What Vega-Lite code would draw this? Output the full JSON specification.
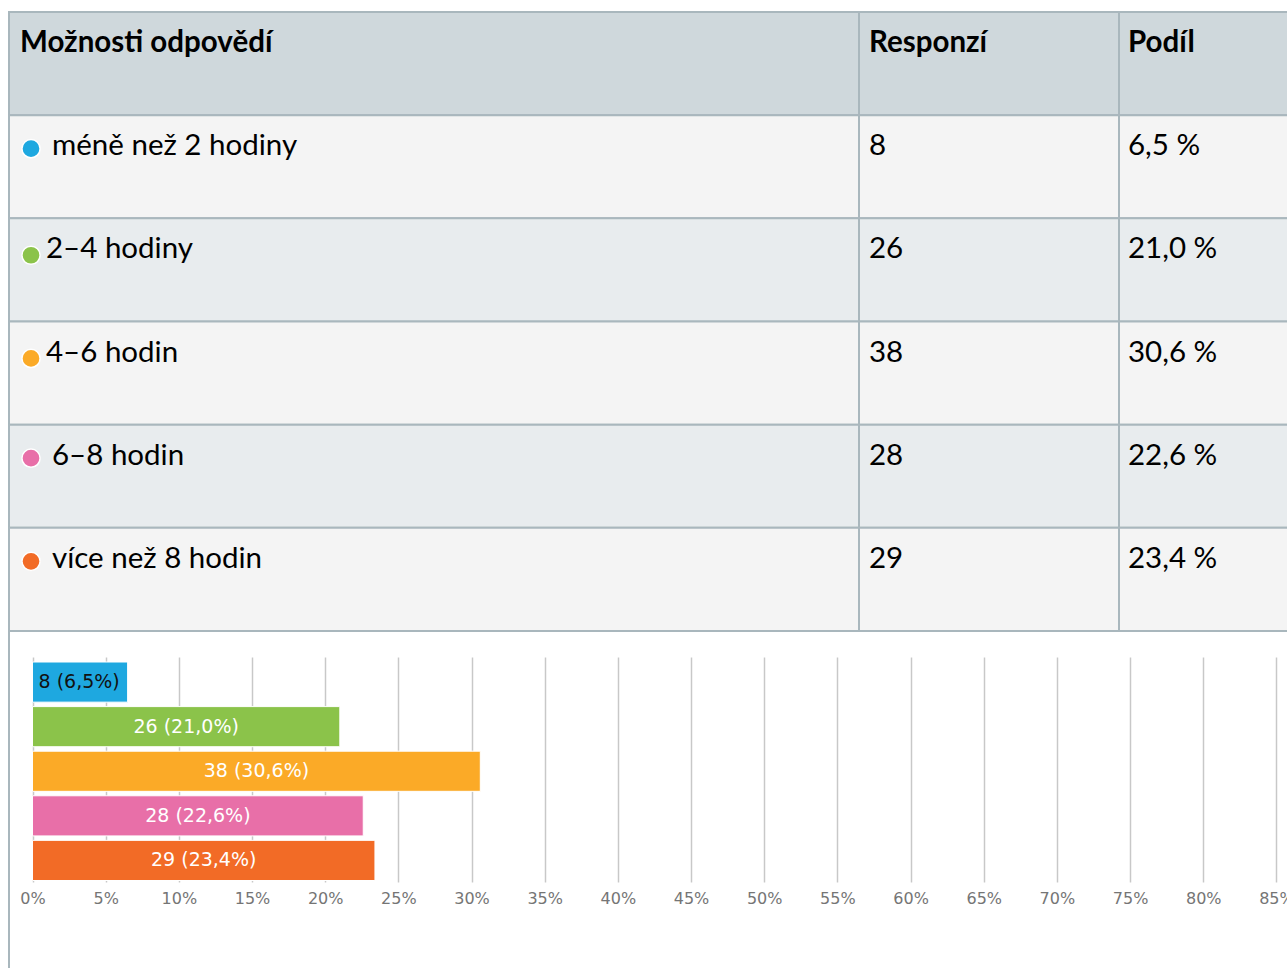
{
  "$schema": "https://vega.github.io/schema/vega-lite/v6.json",
  "padding": {"left": 8, "top": 11, "right": -8, "bottom": 0},
  "background": "#ffffff",
  "bounds": "flush",
  "spacing": 0,
  "columns": 3,
  "config": {"view": {"stroke": null}},
  "resolve": {"scale": {"x": "independent", "y": "independent"}},
  "datasets": {
    "header": [{"option": "Možnosti odpovědí", "responses": "Responzí", "share": "Podíl"}],
    "rows": [
      {"option": "méně než 2 hodiny", "responses": 8, "share": 6.5},
      {"option": "2–4 hodiny", "responses": 26, "share": 21.0},
      {"option": "4–6 hodin", "responses": 38, "share": 30.6},
      {"option": "6–8 hodin", "responses": 28, "share": 22.6},
      {"option": "více než 8 hodin", "responses": 29, "share": 23.4}
    ],
    "none": []
  },
  "concat": [
    {
      "width": 850,
      "height": 619,
      "layer": [
        {
          "data": {"name": "header"},
          "mark": {"type": "rect", "fill": "#cfd8dc", "stroke": "#a9b7bd", "strokeWidth": 2},
          "encoding": {"y": {"field": "option", "type": "nominal", "scale": {"domain": ["Možnosti odpovědí", "méně než 2 hodiny", "2–4 hodiny", "4–6 hodin", "6–8 hodin", "více než 8 hodin"], "paddingInner": 0, "paddingOuter": 0}, "axis": null}}
        },
        {
          "data": {"name": "rows"},
          "mark": {"type": "rect", "stroke": "#a9b7bd", "strokeWidth": 2},
          "encoding": {
            "y": {"field": "option", "type": "nominal", "axis": null},
            "fill": {"field": "option", "type": "nominal", "scale": {"domain": ["méně než 2 hodiny", "2–4 hodiny", "4–6 hodin", "6–8 hodin", "více než 8 hodin"], "range": ["#f4f4f4", "#e8ecee", "#f4f4f4", "#e8ecee", "#f4f4f4"]}, "legend": null}
          }
        },
        {
          "data": {"name": "header"},
          "mark": {"type": "text", "align": "left", "baseline": "alphabetic", "dx": 11, "dy": 40, "font": "Lato", "fontSize": 29.5, "fontWeight": "bold", "color": "#000000"},
          "encoding": {
            "y": {"field": "option", "type": "nominal", "bandPosition": 0, "axis": null},
            "x": {"datum": 0, "type": "quantitative", "scale": {"domain": [0, 1], "nice": false, "zero": false}, "axis": null},
            "text": {"field": "option"}
          }
        },
        {
          "data": {"name": "rows"},
          "transform": [{"filter": "indexof(['2–4 hodiny', '4–6 hodin'], datum.option) < 0"}],
          "mark": {"type": "text", "align": "left", "baseline": "alphabetic", "dx": 43, "dy": 40, "font": "Lato", "fontSize": 29.5, "color": "#000000"},
          "encoding": {
            "y": {"field": "option", "type": "nominal", "bandPosition": 0, "axis": null},
            "x": {"datum": 0, "type": "quantitative"},
            "text": {"field": "option"}
          }
        },
        {
          "data": {"name": "rows"},
          "transform": [{"filter": "indexof(['2–4 hodiny', '4–6 hodin'], datum.option) >= 0"}],
          "mark": {"type": "text", "align": "left", "baseline": "alphabetic", "dx": 37, "dy": 40, "font": "Lato", "fontSize": 29.5, "color": "#000000"},
          "encoding": {
            "y": {"field": "option", "type": "nominal", "bandPosition": 0, "axis": null},
            "x": {"datum": 0, "type": "quantitative"},
            "text": {"field": "option"}
          }
        },
        {
          "data": {"name": "rows"},
          "transform": [{"filter": "indexof(['2–4 hodiny', '4–6 hodin'], datum.option) < 0"}],
          "mark": {"type": "point", "shape": "circle", "filled": true, "size": 330, "stroke": "#ffffff", "strokeWidth": 1.5, "opacity": 1},
          "encoding": {
            "y": {"field": "option", "type": "nominal", "bandPosition": 0.325, "axis": null},
            "x": {"datum": 0.0259, "type": "quantitative"},
            "color": {"field": "option", "type": "nominal", "scale": {"domain": ["méně než 2 hodiny", "2–4 hodiny", "4–6 hodin", "6–8 hodin", "více než 8 hodin"], "range": ["#1ea8e0", "#8bc34a", "#fbaa27", "#e86fa8", "#f26b26"]}, "legend": null}
          }
        },
        {
          "data": {"name": "rows"},
          "transform": [{"filter": "indexof(['2–4 hodiny', '4–6 hodin'], datum.option) >= 0"}],
          "mark": {"type": "point", "shape": "circle", "filled": true, "size": 330, "stroke": "#ffffff", "strokeWidth": 1.5, "opacity": 1},
          "encoding": {
            "y": {"field": "option", "type": "nominal", "bandPosition": 0.358, "axis": null},
            "x": {"datum": 0.0259, "type": "quantitative"},
            "color": {"field": "option", "type": "nominal", "legend": null}
          }
        }
      ]
    },
    {
      "width": 260,
      "height": 619,
      "layer": [
        {
          "data": {"name": "header"},
          "mark": {"type": "rect", "fill": "#cfd8dc", "stroke": "#a9b7bd", "strokeWidth": 2},
          "encoding": {"y": {"field": "option", "type": "nominal", "scale": {"domain": ["Možnosti odpovědí", "méně než 2 hodiny", "2–4 hodiny", "4–6 hodin", "6–8 hodin", "více než 8 hodin"], "paddingInner": 0, "paddingOuter": 0}, "axis": null}}
        },
        {
          "data": {"name": "rows"},
          "mark": {"type": "rect", "stroke": "#a9b7bd", "strokeWidth": 2},
          "encoding": {
            "y": {"field": "option", "type": "nominal", "axis": null},
            "fill": {"field": "option", "type": "nominal", "scale": {"domain": ["méně než 2 hodiny", "2–4 hodiny", "4–6 hodin", "6–8 hodin", "více než 8 hodin"], "range": ["#f4f4f4", "#e8ecee", "#f4f4f4", "#e8ecee", "#f4f4f4"]}, "legend": null}
          }
        },
        {
          "data": {"name": "header"},
          "mark": {"type": "text", "align": "left", "baseline": "alphabetic", "dx": 10, "dy": 40, "font": "Lato", "fontSize": 29.5, "fontWeight": "bold", "color": "#000000"},
          "encoding": {
            "y": {"field": "option", "type": "nominal", "bandPosition": 0, "axis": null},
            "x": {"datum": 0, "type": "quantitative", "scale": {"domain": [0, 1], "nice": false, "zero": false}, "axis": null},
            "text": {"field": "responses"}
          }
        },
        {
          "data": {"name": "rows"},
          "mark": {"type": "text", "align": "left", "baseline": "alphabetic", "dx": 10, "dy": 40, "font": "Lato", "fontSize": 29.5, "color": "#000000"},
          "encoding": {
            "y": {"field": "option", "type": "nominal", "bandPosition": 0, "axis": null},
            "x": {"datum": 0, "type": "quantitative"},
            "text": {"field": "responses", "type": "quantitative", "format": "d"}
          }
        }
      ]
    },
    {
      "width": 170,
      "height": 619,
      "layer": [
        {
          "data": {"name": "header"},
          "mark": {"type": "rect", "fill": "#cfd8dc", "stroke": "#a9b7bd", "strokeWidth": 2},
          "encoding": {"y": {"field": "option", "type": "nominal", "scale": {"domain": ["Možnosti odpovědí", "méně než 2 hodiny", "2–4 hodiny", "4–6 hodin", "6–8 hodin", "více než 8 hodin"], "paddingInner": 0, "paddingOuter": 0}, "axis": null}}
        },
        {
          "data": {"name": "rows"},
          "mark": {"type": "rect", "stroke": "#a9b7bd", "strokeWidth": 2},
          "encoding": {
            "y": {"field": "option", "type": "nominal", "axis": null},
            "fill": {"field": "option", "type": "nominal", "scale": {"domain": ["méně než 2 hodiny", "2–4 hodiny", "4–6 hodin", "6–8 hodin", "více než 8 hodin"], "range": ["#f4f4f4", "#e8ecee", "#f4f4f4", "#e8ecee", "#f4f4f4"]}, "legend": null}
          }
        },
        {
          "data": {"name": "header"},
          "mark": {"type": "text", "align": "left", "baseline": "alphabetic", "dx": 9, "dy": 40, "font": "Lato", "fontSize": 29.5, "fontWeight": "bold", "color": "#000000"},
          "encoding": {
            "y": {"field": "option", "type": "nominal", "bandPosition": 0, "axis": null},
            "x": {"datum": 0, "type": "quantitative", "scale": {"domain": [0, 1], "nice": false, "zero": false}, "axis": null},
            "text": {"field": "share"}
          }
        },
        {
          "data": {"name": "rows"},
          "transform": [{"calculate": "replace(format(datum.share, '.1f'), '.', ',') + ' %'", "as": "shareText"}],
          "mark": {"type": "text", "align": "left", "baseline": "alphabetic", "dx": 9, "dy": 40, "font": "Lato", "fontSize": 29.5, "color": "#000000"},
          "encoding": {
            "y": {"field": "option", "type": "nominal", "bandPosition": 0, "axis": null},
            "x": {"datum": 0, "type": "quantitative"},
            "text": {"field": "shareText"}
          }
        }
      ]
    },
    {
      "width": 850,
      "height": 277,
      "view": {"stroke": "#a9b7bd", "strokeWidth": 2, "strokeDash": [0, 1977, 277, 10]},
      "data": {"name": "rows"},
      "transform": [
        {"calculate": "datum.responses + ' (' + replace(format(datum.share, '.1f'), '.', ',') + '%)'", "as": "barLabel"},
        {"calculate": "datum.share / 2", "as": "mid"}
      ],
      "encoding": {
        "y": {"field": "option", "type": "nominal", "sort": null, "scale": {"domain": ["méně než 2 hodiny", "2–4 hodiny", "4–6 hodin", "6–8 hodin", "více než 8 hodin"], "range": [26, 251], "paddingInner": 0.1, "paddingOuter": 0.073, "align": 0.77}, "axis": null}
      },
      "layer": [
        {
          "mark": {"type": "bar", "stroke": "#ffffff", "strokeWidth": 1},
          "encoding": {
            "x": {
              "field": "share",
              "type": "quantitative",
              "scale": {"domain": [0, 85.86], "range": [23.5, 1280], "nice": false},
              "axis": {"orient": "bottom", "offset": -26, "values": [0, 5, 10, 15, 20, 25, 30, 35, 40, 45, 50, 55, 60, 65, 70, 75, 80, 85], "labelExpr": "datum.value + '%'", "labelFlush": false, "labelOverlap": false, "domain": false, "ticks": false, "grid": true, "gridColor": "#c8c8c8", "gridWidth": 1.5, "labelFont": "DejaVu Sans", "labelFontSize": 16, "labelColor": "#757575", "labelPadding": 8, "labelBaseline": "top", "title": null}
            },
            "color": {"field": "option", "type": "nominal", "scale": {"domain": ["méně než 2 hodiny", "2–4 hodiny", "4–6 hodin", "6–8 hodin", "více než 8 hodin"], "range": ["#1ea8e0", "#8bc34a", "#fbaa27", "#e86fa8", "#f26b26"]}, "legend": null}
          }
        },
        {
          "transform": [{"filter": "datum.share >= 10"}],
          "mark": {"type": "text", "color": "#ffffff", "font": "DejaVu Sans", "fontSize": 19, "baseline": "middle", "align": "center"},
          "encoding": {
            "x": {"field": "mid", "type": "quantitative"},
            "text": {"field": "barLabel"}
          }
        },
        {
          "transform": [{"filter": "datum.share < 10"}],
          "mark": {"type": "text", "color": "#111111", "font": "DejaVu Sans", "fontSize": 19, "baseline": "middle", "align": "left", "dx": 6},
          "encoding": {
            "x": {"datum": 0, "type": "quantitative"},
            "text": {"field": "barLabel"}
          }
        }
      ]
    },
    {
      "width": 1,
      "height": 1,
      "data": {"name": "none"},
      "mark": {"type": "point"},
      "encoding": {}
    },
    {
      "width": 1,
      "height": 1,
      "data": {"name": "none"},
      "mark": {"type": "point"},
      "encoding": {}
    },
    {
      "width": 850,
      "height": 60,
      "view": {"stroke": "#a9b7bd", "strokeWidth": 2, "strokeDash": [0, 1760, 60, 10]},
      "data": {"name": "none"},
      "mark": {"type": "point"},
      "encoding": {}
    }
  ]
}
